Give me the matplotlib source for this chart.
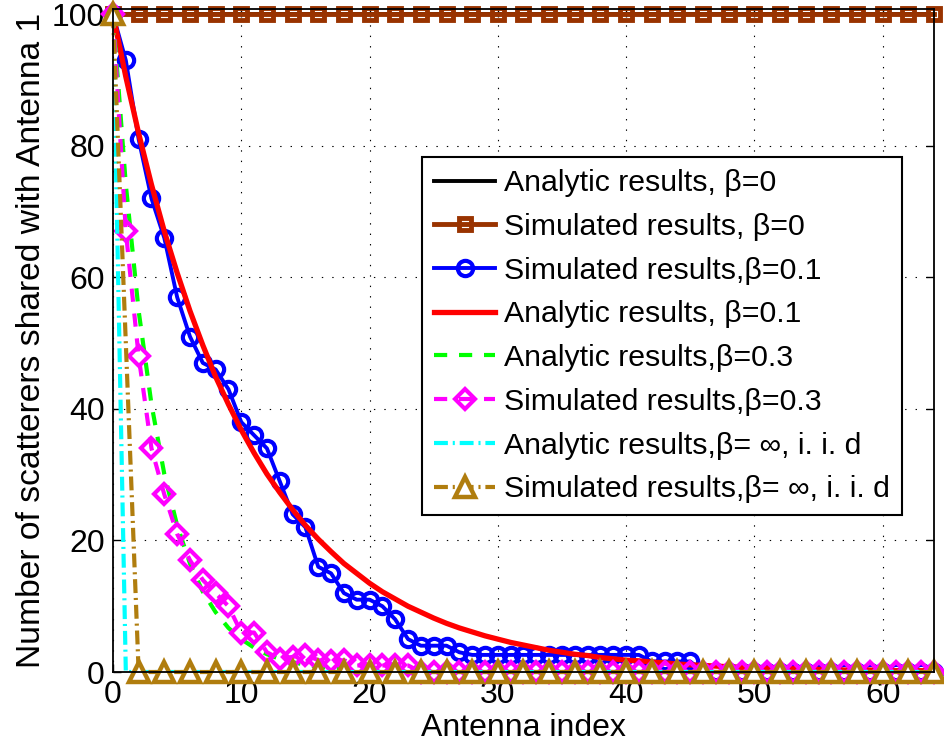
import matplotlib
matplotlib.use('Agg')
import matplotlib.pyplot as plt
import numpy as np

# ================= 字体 / 样式 =================
plt.rcParams['font.family'] = ['Liberation Sans', 'DejaVu Sans']
plt.rcParams['lines.scale_dashes'] = False

# ================= 数据 =================
# 天线编号，β=0 与 β=∞ 的仿真只画了偶数天线
antenna = list(range(0, 65))
antenna_even = list(range(0, 65, 2))

analytic_b0 = [100, 100, 100, 100, 100, 100, 100, 100, 100, 100,
               100, 100, 100, 100, 100, 100, 100, 100, 100, 100,
               100, 100, 100, 100, 100, 100, 100, 100, 100, 100,
               100, 100, 100, 100, 100, 100, 100, 100, 100, 100,
               100, 100, 100, 100, 100, 100, 100, 100, 100, 100,
               100, 100, 100, 100, 100, 100, 100, 100, 100, 100,
               100, 100, 100, 100, 100]

sim_b0 = [100, 100, 100, 100, 100, 100, 100, 100, 100, 100,
          100, 100, 100, 100, 100, 100, 100, 100, 100, 100,
          100, 100, 100, 100, 100, 100, 100, 100, 100, 100,
          100, 100, 100]

sim_b01 = [100, 93, 81, 72, 66, 57, 51, 47, 46, 43,
           38, 36, 34, 29, 24, 22, 16, 15, 12, 11,
           11, 10, 8, 5, 4, 4, 4, 3, 2.6, 2.6,
           2.6, 2.6, 2.6, 2.6, 2.6, 2.6, 2.6, 2.6, 2.6, 2.6,
           2.6, 2.6, 1.6, 1.6, 1.6, 1.6, 0, 0, 0, 0,
           0, 0, 0, 0, 0, 0, 0, 0, 0, 0,
           0, 0, 0, 0, 0]

analytic_b01 = [100, 90.5, 81.9, 74.1, 67.0, 60.7, 54.9, 49.7, 44.9, 40.7,
                36.8, 33.3, 30.1, 27.3, 24.7, 22.3, 20.2, 18.3, 16.5, 15.0,
                13.5, 12.2, 11.1, 10.0, 9.1, 8.2, 7.4, 6.7, 6.1, 5.5,
                5.0, 4.5, 4.1, 3.7, 3.3, 3.0, 2.7, 2.5, 2.2, 2.0,
                1.8, 1.7, 1.5, 1.4, 1.2, 1.1, 1.0, 0.9, 0.8, 0.7,
                0.7, 0.6, 0.6, 0.5, 0.5, 0.4, 0.4, 0.3, 0.3, 0.3,
                0.2, 0.2, 0.2, 0.2, 0.2]

analytic_b03 = [100, 74.1, 54.9, 40.7, 30.1, 22.3, 16.5, 12.2, 9.1, 6.7,
                5.0, 3.7, 2.7, 2.0, 1.5, 1.1, 0.8, 0.6, 0.5, 0.3,
                0.2, 0.2, 0.1, 0.1, 0.1, 0.1, 0, 0, 0, 0,
                0, 0, 0, 0, 0, 0, 0, 0, 0, 0,
                0, 0, 0, 0, 0, 0, 0, 0, 0, 0,
                0, 0, 0, 0, 0, 0, 0, 0, 0, 0,
                0, 0, 0, 0, 0]

sim_b03 = [100, 67, 48, 34, 27, 21, 17, 14, 12, 10,
           6, 6, 3, 2, 2.3, 2.6, 1.8, 1.6, 1.8, 1,
           1, 1, 1, 1, 0, 0, 0, 0, 0, 0,
           0, 0, 0, 0, 0, 0, 0, 0, 0, 0,
           0, 0, 0, 0, 0, 0, 0, 0, 0, 0,
           0, 0, 0, 0, 0, 0, 0, 0, 0, 0,
           0, 0, 0, 0, 0]

analytic_inf = [100, 0, 0, 0, 0, 0, 0, 0, 0, 0,
                0, 0, 0, 0, 0, 0, 0, 0, 0, 0,
                0, 0, 0, 0, 0, 0, 0, 0, 0, 0,
                0, 0, 0, 0, 0, 0, 0, 0, 0, 0,
                0, 0, 0, 0, 0, 0, 0, 0, 0, 0,
                0, 0, 0, 0, 0, 0, 0, 0, 0, 0,
                0, 0, 0, 0, 0]

sim_inf = [100, 0, 0, 0, 0, 0, 0, 0, 0, 0,
           0, 0, 0, 0, 0, 0, 0, 0, 0, 0,
           0, 0, 0, 0, 0, 0, 0, 0, 0, 0,
           0, 0, 0]

labels = ['Analytic results, β=0',
          'Simulated results, β=0',
          'Simulated results,β=0.1',
          'Analytic results, β=0.1',
          'Analytic results,β=0.3',
          'Simulated results,β=0.3',
          'Analytic results,β= ∞, i. i. d',
          'Simulated results,β= ∞, i. i. d']

# ================= 绘图 =================
fig = plt.figure(figsize=(9.44, 7.56), dpi=100)
ax = fig.add_axes([0.1197, 0.1111, 0.8697, 0.8769])

dashed = (0, (9.5, 8.5))
dashdot = (0, (10, 3.5, 1.5, 3.5))

ax.plot(antenna, analytic_b0, color='black', lw=2.8, label=labels[0])
ax.plot(antenna_even, sim_b0, color='#993300', lw=3.5, marker='s', ms=8,
        mfc='none', mew=3.5, clip_on=False, label=labels[1])
ax.plot(antenna, sim_b01, color='#0000ff', lw=2.8, marker='o', ms=11,
        mfc='none', mew=3, clip_on=False, label=labels[2])
ax.plot(antenna, analytic_b01, color='#ff0000', lw=3.8, label=labels[3])
ax.plot(antenna, analytic_b03, color='#00ff00', lw=3, linestyle=dashed,
        label=labels[4])
ax.plot(antenna, sim_b03, color='#ff00ff', lw=3, linestyle=dashed,
        marker='D', ms=10.5, mfc='none', mew=3, clip_on=False, label=labels[5])
ax.plot(antenna, analytic_inf, color='#00ffff', lw=3, linestyle=dashdot,
        label=labels[6])
ax.plot(antenna_even, sim_inf, color='#b07d0e', lw=3, linestyle=dashdot,
        marker='^', ms=14, mfc='white', mew=3.2, clip_on=False,
        label=labels[7])

ax.set_xlim(0, 64)
ax.set_ylim(0, 100.8)
ax.set_xticks([0, 10, 20, 30, 40, 50, 60])
ax.set_yticks([0, 20, 40, 60, 80, 100])
ax.tick_params(direction='in', length=6, width=1, labelsize=23,
               top=True, right=True, pad=6)
for sp in ax.spines.values():
    sp.set_linewidth(1.3)
ax.grid(True, color='black', linestyle=(0, (1, 6.5)), linewidth=0.8)

ax.set_xlabel('Antenna index', fontsize=23, labelpad=2)
ax.set_ylabel('Number of scatterers shared with Antenna 1', fontsize=24.2,
              labelpad=3)

leg = ax.legend(loc='upper right', bbox_to_anchor=(902 / 944, 1 - 157 / 756),
                bbox_transform=fig.transFigure, borderaxespad=0,
                fontsize=21.8, numpoints=1, handlelength=2.0,
                handletextpad=0.3, labelspacing=0.52, borderpad=0.4,
                fancybox=False, framealpha=1, edgecolor='black')
leg.get_frame().set_linewidth(1.5)

plt.savefig('out.png', dpi=100)
